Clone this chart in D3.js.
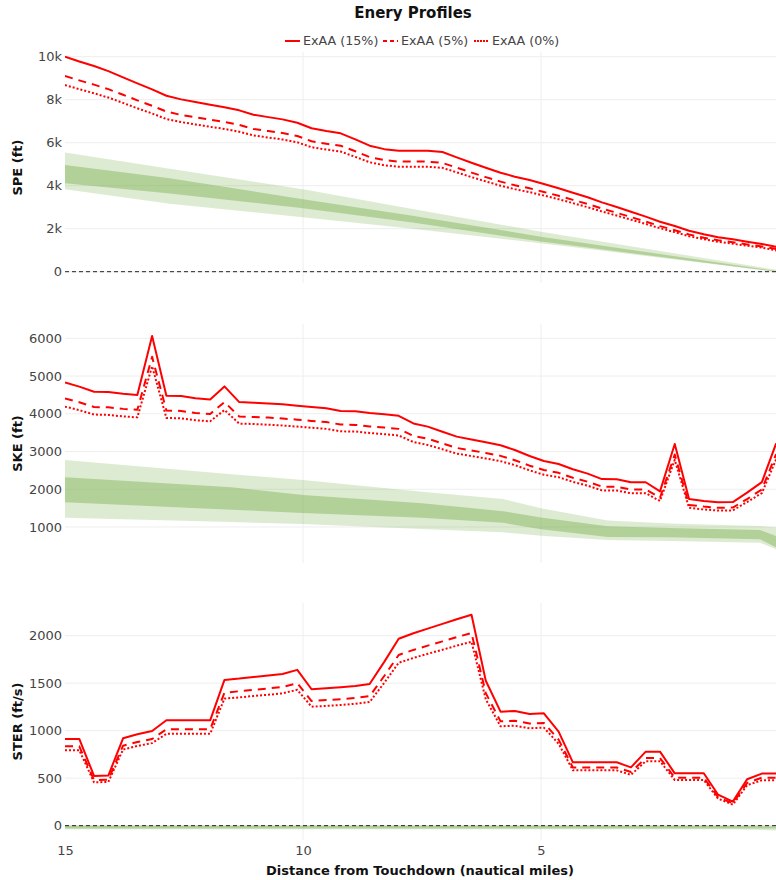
<!DOCTYPE html>
<html>
<head>
<meta charset="utf-8">
<script src="https://cdn.jsdelivr.net/npm/d3@7"></script>
<style>
body { margin: 0; background: #fff; }
svg { display: block; font-family: "DejaVu Sans", Verdana, sans-serif; }
</style>
</head>
<body>
<svg id="chart" width="776" height="880"></svg>
<script>
// distance from touchdown (nm), shared by the red profiles
const dist = [15.00, 14.70, 14.39, 14.09, 13.78, 13.48, 13.17, 12.87, 12.56, 12.26,
              11.95, 11.65, 11.34, 11.04, 10.73, 10.43, 10.12, 9.82, 9.51, 9.21,
              8.90, 8.60, 8.29, 7.99, 7.68, 7.38, 7.07, 6.77, 6.46, 6.16,
              5.85, 5.55, 5.24, 4.94, 4.63, 4.33, 4.02, 3.72, 3.41, 3.11,
              2.80, 2.50, 2.19, 1.89, 1.58, 1.28, 0.97, 0.67, 0.36, 0.06];

const seriesNames = ["ExAA (15%)", "ExAA (5%)", "ExAA (0%)"];

const spe15 = [10000, 9780, 9565, 9330, 9040, 8760, 8480, 8185, 8015, 7890,
               7765, 7645, 7505, 7300, 7190, 7085, 6930, 6670, 6540, 6435,
               6155, 5860, 5700, 5625, 5625, 5625, 5565, 5320, 5070, 4835,
               4605, 4420, 4265, 4080, 3880, 3675, 3460, 3225, 3010, 2790,
               2560, 2325, 2125, 1905, 1740, 1600, 1505, 1395, 1290, 1160];
const spe5 = [9100, 8900, 8700, 8490, 8230, 7970, 7720, 7450, 7290, 7180,
              7070, 6960, 6830, 6640, 6540, 6450, 6310, 6070, 5950, 5860,
              5600, 5330, 5190, 5120, 5120, 5120, 5060, 4840, 4610, 4400,
              4190, 4020, 3880, 3710, 3530, 3340, 3150, 2940, 2740, 2540,
              2330, 2120, 1930, 1730, 1580, 1460, 1370, 1270, 1170, 1060];
const spe0 = [8680, 8490, 8300, 8100, 7850, 7600, 7360, 7100, 6960, 6850,
              6740, 6640, 6510, 6340, 6240, 6150, 6020, 5790, 5680, 5590,
              5340, 5090, 4950, 4880, 4880, 4880, 4830, 4620, 4400, 4200,
              4000, 3840, 3700, 3540, 3370, 3190, 3000, 2800, 2610, 2420,
              2220, 2020, 1840, 1650, 1510, 1390, 1300, 1210, 1120, 990];

const ske15 = [4830, 4720, 4585, 4575, 4530, 4500, 6060, 4480, 4470, 4410,
               4380, 4725, 4310, 4295, 4275, 4250, 4215, 4180, 4145, 4075,
               4065, 4020, 3985, 3945, 3745, 3660, 3525, 3395, 3320, 3245,
               3165, 3040, 2880, 2750, 2670, 2530, 2415, 2270, 2265, 2185,
               2185, 1945, 3200, 1740, 1690, 1655, 1660, 1910, 2190, 3215];
const ske5 = [4405, 4305, 4180, 4170, 4130, 4105, 5510, 4085, 4075, 4020,
              3995, 4310, 3930, 3915, 3900, 3875, 3845, 3810, 3780, 3715,
              3705, 3665, 3635, 3600, 3415, 3340, 3215, 3095, 3030, 2960,
              2885, 2770, 2625, 2510, 2435, 2305, 2200, 2070, 2065, 1995,
              1995, 1775, 2920, 1585, 1540, 1510, 1515, 1740, 1995, 2930];
const ske0 = [4190, 4095, 3980, 3970, 3930, 3905, 5260, 3890, 3880, 3830,
              3800, 4100, 3740, 3730, 3710, 3690, 3660, 3630, 3600, 3535,
              3530, 3490, 3460, 3425, 3250, 3175, 3060, 2945, 2880, 2815,
              2745, 2640, 2500, 2385, 2320, 2195, 2095, 1970, 1965, 1895,
              1895, 1690, 2780, 1510, 1465, 1435, 1440, 1660, 1900, 2790];

const ster15 = [913, 913, 523, 527, 920, 962, 997, 1109, 1109, 1109,
                1109, 1534, 1548, 1565, 1580, 1597, 1640, 1436, 1446, 1457,
                1471, 1492, 1727, 1967, 2025, 2074, 2124, 2173, 2220, 1525,
                1200, 1207, 1176, 1183, 990, 667, 667, 667, 667, 614,
                779, 779, 551, 551, 551, 326, 253, 488, 548, 548];
const ster5 = [835, 835, 480, 485, 842, 880, 912, 1015, 1015, 1015,
               1015, 1400, 1415, 1430, 1445, 1460, 1500, 1312, 1322, 1332,
               1345, 1363, 1578, 1797, 1850, 1895, 1940, 1985, 2028, 1395,
               1098, 1104, 1076, 1082, 906, 612, 612, 612, 612, 565,
               712, 712, 505, 505, 505, 300, 235, 450, 505, 505];
const ster0 = [795, 795, 456, 460, 802, 839, 869, 967, 967, 967,
               967, 1338, 1350, 1365, 1378, 1393, 1430, 1252, 1261, 1270,
               1283, 1301, 1506, 1715, 1766, 1809, 1852, 1895, 1936, 1330,
               1046, 1052, 1025, 1032, 863, 582, 582, 582, 582, 535,
               679, 679, 480, 480, 480, 284, 221, 426, 478, 478];

// green reference envelopes (outer = light, inner = dark)
const speBandDist = [15, 12.8, 10, 7.7, 5, 0.06];
const speOuterHi = [5540, 4790, 3830, 2920, 1860, 90];
const speInnerHi = [4960, 4350, 3370, 2600, 1630, 30];
const speInnerLo = [4110, 3640, 2950, 2290, 1400, 0];
const speOuterLo = [3830, 3160, 2530, 2000, 1320, 0];

const skeBandDist = [15, 11.5, 10, 7.5, 5.8, 5, 3.6, 2.3, 0.4, 0.06];
const skeOuterHi = [2776, 2400, 2246, 1936, 1740, 1495, 1170, 1090, 1027, 990];
const skeInnerHi = [2320, 2050, 1848, 1628, 1420, 1250, 1020, 975, 920, 760];
const skeInnerLo = [1655, 1460, 1370, 1246, 1110, 940, 735, 727, 674, 460];
const skeOuterLo = [1246, 1130, 1080, 947, 860, 770, 655, 629, 584, 410];

const sterBandDist = [15, 1, 0.06];
const sterOuterHi = [4, 4, 0];
const sterInnerHi = [-3, -3, -8];
const sterInnerLo = [-30, -30, -30];
const sterOuterLo = [-38, -38, -50];

const xTicks = [15, 10, 5];
const speTicks = [0, 2000, 4000, 6000, 8000, 10000];
const skeTicks = [1000, 2000, 3000, 4000, 5000, 6000];
const sterTicks = [0, 500, 1000, 1500, 2000];

const dashes = [null, "8,6", "2,2"];
const green = "rgb(123,175,79)";

var svg = d3.select("#chart");
var x = d3.scaleLinear().domain([15, 0]).range([65, 779]);
var left = 65, right = 776;

var panels = [
  {id: "spe", title: "SPE (ft)", top: 52, bottom: 283, domain: [-526, 10219], ticks: speTicks,
   fmt: d3.format("~s"), lines: [spe15, spe5, spe0], zero: true,
   band: [speBandDist, speOuterHi, speInnerHi, speInnerLo, speOuterLo]},
  {id: "ske", title: "SKE (ft)", top: 324, bottom: 563, domain: [46, 6379], ticks: skeTicks,
   fmt: d3.format("d"), lines: [ske15, ske5, ske0], zero: false,
   band: [skeBandDist, skeOuterHi, skeInnerHi, skeInnerLo, skeOuterLo]},
  {id: "ster", title: "STER (ft/s)", top: 603, bottom: 840, domain: [-151, 2344], ticks: sterTicks,
   fmt: d3.format("d"), lines: [ster15, ster5, ster0], zero: true,
   band: [sterBandDist, sterOuterHi, sterInnerHi, sterInnerLo, sterOuterLo]}
];

panels.forEach(p => {
  var y = d3.scaleLinear().domain(p.domain).range([p.bottom, p.top]);
  var g = svg.append("g");

  svg.append("clipPath").attr("id", "clip-" + p.id)
    .append("rect").attr("x", left).attr("y", p.top)
    .attr("width", right - left + 4).attr("height", p.bottom - p.top);

  // grid
  g.selectAll(".hg").data(p.ticks).enter().append("line")
    .attr("x1", left).attr("x2", right)
    .attr("y1", d => y(d)).attr("y2", d => y(d))
    .attr("stroke", "#eee").attr("stroke-width", 1);
  g.selectAll(".vg").data([10, 5]).enter().append("line")
    .attr("x1", d => x(d)).attr("x2", d => x(d))
    .attr("y1", p.top).attr("y2", p.bottom)
    .attr("stroke", "#eee").attr("stroke-width", 1);

  var plot = g.append("g").attr("clip-path", "url(#clip-" + p.id + ")");

  // bands
  var b = p.band;
  var outer = d3.area().x((d, i) => x(b[0][i])).y0((d, i) => y(b[4][i])).y1((d, i) => y(b[1][i]));
  var inner = d3.area().x((d, i) => x(b[0][i])).y0((d, i) => y(b[3][i])).y1((d, i) => y(b[2][i]));
  plot.append("path").attr("d", outer(b[0])).attr("fill", green).attr("fill-opacity", 0.25);
  plot.append("path").attr("d", inner(b[0])).attr("fill", green).attr("fill-opacity", 0.44);

  if (p.zero) {
    plot.append("line").attr("x1", left).attr("x2", right)
      .attr("y1", y(0)).attr("y2", y(0))
      .attr("stroke", "#222").attr("stroke-width", 1).attr("stroke-dasharray", "4,3");
  }

  var line = d3.line().x((d, i) => x(dist[i])).y(d => y(d));
  p.lines.forEach((vals, k) => {
    plot.append("path").attr("d", line(vals))
      .attr("fill", "none").attr("stroke", "red").attr("stroke-width", 2)
      .attr("stroke-dasharray", dashes[k]).attr("stroke-linejoin", "round");
  });

  // y axis
  var ax = g.append("g").attr("transform", "translate(" + left + ",0)")
    .call(d3.axisLeft(y).tickValues(p.ticks).tickFormat(p.fmt).tickSize(0).tickPadding(3));
  ax.select(".domain").remove();
  ax.selectAll("text").attr("fill", "#444").style("font-size", "13px").style("font-family", "DejaVu Sans");

  g.append("text")
    .attr("transform", "translate(22," + ((p.top + p.bottom) / 2) + ") rotate(-90)")
    .attr("text-anchor", "middle").attr("font-weight", "bold").attr("font-size", 13)
    .attr("fill", "#111").text(p.title);
});

// x axis
var xa = svg.append("g").attr("transform", "translate(0,840)")
  .call(d3.axisBottom(x).tickValues(xTicks).tickFormat(d3.format("d")).tickSize(0).tickPadding(6));
xa.select(".domain").remove();
xa.selectAll("text").attr("fill", "#444").style("font-size", "13px").style("font-family", "DejaVu Sans");

svg.append("text").attr("x", 420).attr("y", 875).attr("text-anchor", "middle")
  .attr("font-weight", "bold").attr("font-size", 13).attr("fill", "#111")
  .text("Distance from Touchdown (nautical miles)");

// title
svg.append("text").attr("x", 413).attr("y", 18).attr("text-anchor", "middle")
  .attr("font-weight", "bold").attr("font-size", 15).attr("fill", "#111")
  .text("Enery Profiles");

// legend
var legX = [285, 383, 474];
var leg = svg.selectAll(".leg").data(seriesNames).enter().append("g")
  .attr("transform", (d, i) => "translate(" + legX[i] + ",41)");
leg.append("line").attr("x1", 0).attr("x2", 15).attr("y1", 0).attr("y2", 0)
  .attr("stroke", "red").attr("stroke-width", 2)
  .attr("stroke-dasharray", (d, i) => i == 1 ? "4,3" : (i == 2 ? "2,1" : null));
leg.append("text").attr("x", 18).attr("dy", "0.35em")
  .attr("font-size", 12.7).attr("fill", "#444").text(d => d);
</script>
</body>
</html>
